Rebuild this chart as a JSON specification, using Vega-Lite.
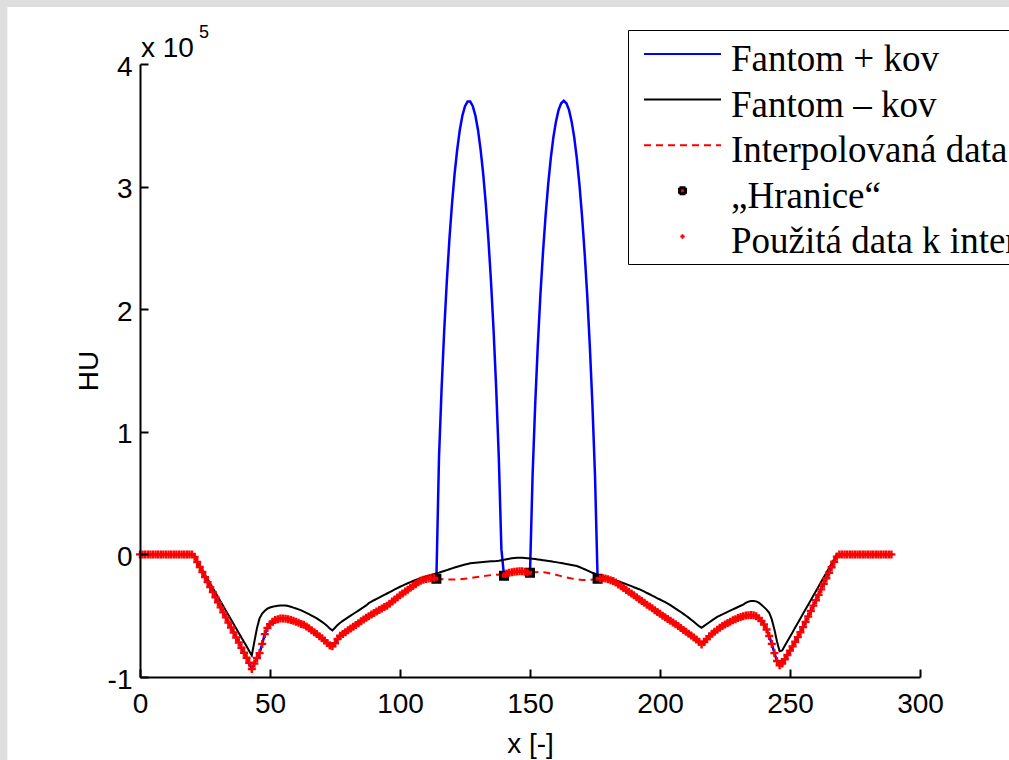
{
"$schema":"https://vega.github.io/schema/vega-lite/v6.json",
"width":780,"height":613,
"autosize":{"type":"none"},
"padding":{"left":140,"top":64,"right":89,"bottom":83},
"background":"#dedede",
"config":{"view":{"stroke":null},"font":"Liberation Sans","axis":{"zindex":1,"domainColor":"black","tickColor":"black","labelColor":"black","titleColor":"black","grid":false,"domainWidth":2,"tickWidth":2,"tickSize":-8,"labelFontSize":28,"titleFontSize":28,"titleFontWeight":"normal","labelFont":"Liberation Sans","titleFont":"Liberation Sans","labelFlush":false,"labelOverlap":false}},
"datasets":{
"plus":[{"x":0,"y":0},{"x":1,"y":0},{"x":2,"y":0},{"x":3,"y":0},{"x":4,"y":0},{"x":5,"y":0},{"x":6,"y":0},{"x":7,"y":0},{"x":8,"y":0},{"x":9,"y":0},{"x":10,"y":0},{"x":11,"y":0},{"x":12,"y":0},{"x":13,"y":0},{"x":14,"y":0},{"x":15,"y":0},{"x":16,"y":0},{"x":17,"y":0},{"x":18,"y":0},{"x":19,"y":0},{"x":20,"y":0},
{"x":21,"y":-2000},{"x":22,"y":-6200},{"x":23,"y":-10300},{"x":24,"y":-14400},{"x":25,"y":-18500},{"x":26,"y":-22600},{"x":27,"y":-26700},{"x":28,"y":-30800},{"x":29,"y":-34900},{"x":30,"y":-39000},{"x":31,"y":-43200},{"x":32,"y":-47300},{"x":33,"y":-51400},{"x":34,"y":-55500},{"x":35,"y":-59600},{"x":36,"y":-63700},{"x":37,"y":-67800},{"x":38,"y":-71900},{"x":39,"y":-76100},{"x":40,"y":-80200},{"x":41,"y":-84300},{"x":42,"y":-88400},{"x":43,"y":-93500},{"x":44,"y":-89000},{"x":45,"y":-84500},{"x":46,"y":-80500},{"x":47,"y":-73000},{"x":48,"y":-65000},{"x":49,"y":-60000},{"x":50,"y":-57000},
{"x":51,"y":-55000},{"x":52,"y":-53500},{"x":53,"y":-52800},{"x":54,"y":-52300},{"x":55,"y":-52200},{"x":56,"y":-52400},{"x":57,"y":-52900},{"x":58,"y":-53500},{"x":59,"y":-54200},{"x":60,"y":-55000},{"x":61,"y":-55800},{"x":62,"y":-56700},{"x":63,"y":-57400},{"x":64,"y":-58800},{"x":65,"y":-60300},{"x":66,"y":-61800},{"x":67,"y":-63400},{"x":68,"y":-65000},{"x":69,"y":-66700},{"x":70,"y":-68400},{"x":71,"y":-70300},{"x":72,"y":-72300},{"x":73,"y":-74400},{"x":74,"y":-75000},{"x":75,"y":-72500},
{"x":76,"y":-69000},{"x":77,"y":-66400},{"x":78,"y":-64900},{"x":79,"y":-63400},{"x":80,"y":-61900},{"x":81,"y":-60500},{"x":82,"y":-59000},{"x":83,"y":-57500},{"x":84,"y":-56100},{"x":85,"y":-54600},{"x":86,"y":-53100},{"x":87,"y":-51700},{"x":88,"y":-50400},{"x":89,"y":-49100},{"x":90,"y":-47800},{"x":91,"y":-46600},{"x":92,"y":-45400},{"x":93,"y":-44200},{"x":94,"y":-43000},{"x":95,"y":-41900},{"x":96,"y":-40200},{"x":97,"y":-38500},{"x":98,"y":-36800},{"x":99,"y":-35100},{"x":100,"y":-33400},
{"x":101,"y":-31900},{"x":102,"y":-30300},{"x":103,"y":-28800},{"x":104,"y":-27300},{"x":105,"y":-25800},{"x":106,"y":-24300},{"x":107,"y":-22800},{"x":108,"y":-21500},{"x":109,"y":-20600},{"x":110,"y":-20000},{"x":111,"y":-19600},{"x":112,"y":-19400},{"x":113,"y":-19300},{"x":114,"y":-19800},
{"x":115,"y":79000},{"x":116,"y":135200},{"x":117,"y":182400},{"x":118,"y":222600},{"x":119,"y":256900},{"x":120,"y":285800},{"x":121,"y":310300},{"x":122,"y":330200},{"x":123,"y":346200},{"x":124,"y":357900},{"x":125,"y":365600},{"x":126,"y":369500},{"x":127,"y":369500},{"x":128,"y":365600},{"x":129,"y":357900},{"x":130,"y":346200},{"x":131,"y":330200},{"x":132,"y":310300},{"x":133,"y":285800},{"x":134,"y":256900},{"x":135,"y":222600},{"x":136,"y":182400},{"x":137,"y":135200},{"x":138,"y":79000},{"x":139,"y":4300},
{"x":140,"y":-17400},{"x":141,"y":-15500},{"x":142,"y":-14900},{"x":143,"y":-14500},{"x":144,"y":-14200},{"x":145,"y":-13900},{"x":146,"y":-13700},{"x":147,"y":-13800},{"x":148,"y":-14200},{"x":149,"y":-14700},{"x":150,"y":-15000},
{"x":151,"y":64600},{"x":152,"y":122400},{"x":153,"y":170300},{"x":154,"y":211700},{"x":155,"y":246400},{"x":156,"y":276400},{"x":157,"y":302100},{"x":158,"y":323200},{"x":159,"y":340400},{"x":160,"y":353200},{"x":161,"y":362600},{"x":162,"y":368000},{"x":163,"y":370000},{"x":164,"y":368000},{"x":165,"y":362600},{"x":166,"y":353200},{"x":167,"y":340400},{"x":168,"y":323200},{"x":169,"y":302100},{"x":170,"y":276400},{"x":171,"y":246400},{"x":172,"y":211700},{"x":173,"y":170300},{"x":174,"y":122400},{"x":175,"y":64600},
{"x":176,"y":-19800},{"x":177,"y":-19600},{"x":178,"y":-19500},{"x":179,"y":-19700},{"x":180,"y":-20300},{"x":181,"y":-21000},{"x":182,"y":-21700},{"x":183,"y":-23000},{"x":184,"y":-24500},{"x":185,"y":-26000},{"x":186,"y":-27500},{"x":187,"y":-29000},{"x":188,"y":-30400},{"x":189,"y":-31900},{"x":190,"y":-33300},{"x":191,"y":-34900},{"x":192,"y":-36500},{"x":193,"y":-38000},{"x":194,"y":-39500},{"x":195,"y":-41000},{"x":196,"y":-42500},{"x":197,"y":-44000},{"x":198,"y":-45500},{"x":199,"y":-47000},{"x":200,"y":-48500},
{"x":201,"y":-50000},{"x":202,"y":-51300},{"x":203,"y":-52700},{"x":204,"y":-54100},{"x":205,"y":-55500},{"x":206,"y":-57000},{"x":207,"y":-58500},{"x":208,"y":-60000},{"x":209,"y":-61600},{"x":210,"y":-63100},{"x":211,"y":-64700},{"x":212,"y":-66200},{"x":213,"y":-67700},{"x":214,"y":-69400},{"x":215,"y":-71200},{"x":216,"y":-73400},{"x":217,"y":-71500},{"x":218,"y":-69000},{"x":219,"y":-66800},{"x":220,"y":-64800},{"x":221,"y":-63000},{"x":222,"y":-61400},{"x":223,"y":-59900},{"x":224,"y":-58500},{"x":225,"y":-57200},
{"x":226,"y":-56000},{"x":227,"y":-54900},{"x":228,"y":-53800},{"x":229,"y":-52800},{"x":230,"y":-51900},{"x":231,"y":-51100},{"x":232,"y":-50400},{"x":233,"y":-49900},{"x":234,"y":-49600},{"x":235,"y":-49500},{"x":236,"y":-49700},{"x":237,"y":-50500},{"x":238,"y":-52000},{"x":239,"y":-54200},{"x":240,"y":-57200},{"x":241,"y":-61200},{"x":242,"y":-66500},{"x":243,"y":-73000},{"x":244,"y":-80500},{"x":245,"y":-87000},{"x":246,"y":-90500},{"x":247,"y":-89000},{"x":248,"y":-85500},{"x":249,"y":-82000},{"x":250,"y":-78500},
{"x":251,"y":-75000},{"x":252,"y":-71300},{"x":253,"y":-67500},{"x":254,"y":-63500},{"x":255,"y":-59300},{"x":256,"y":-55000},{"x":257,"y":-50600},{"x":258,"y":-46200},{"x":259,"y":-41800},{"x":260,"y":-37400},{"x":261,"y":-33000},{"x":262,"y":-28500},{"x":263,"y":-24000},{"x":264,"y":-19500},{"x":265,"y":-15000},{"x":266,"y":-10500},{"x":267,"y":-6000},{"x":268,"y":-1800},
{"x":269,"y":0},{"x":270,"y":0},{"x":271,"y":0},{"x":272,"y":0},{"x":273,"y":0},{"x":274,"y":0},{"x":275,"y":0},{"x":276,"y":0},{"x":277,"y":0},{"x":278,"y":0},{"x":279,"y":0},{"x":280,"y":0},{"x":281,"y":0},{"x":282,"y":0},{"x":283,"y":0},{"x":284,"y":0},{"x":285,"y":0},{"x":286,"y":0},{"x":287,"y":0},{"x":288,"y":0},{"x":289,"y":0}],
"minus":[{"x":0,"y":0},{"x":20,"y":0},
{"x":21,"y":-1800},{"x":22,"y":-5500},{"x":23,"y":-9200},{"x":24,"y":-12800},{"x":25,"y":-16500},{"x":26,"y":-20100},{"x":27,"y":-23800},{"x":28,"y":-27500},{"x":29,"y":-31100},{"x":30,"y":-34800},{"x":31,"y":-38400},{"x":32,"y":-42100},{"x":33,"y":-45800},{"x":34,"y":-49400},{"x":35,"y":-53100},{"x":36,"y":-56700},{"x":37,"y":-60400},{"x":38,"y":-64100},{"x":39,"y":-67700},{"x":40,"y":-71400},{"x":41,"y":-75000},{"x":42,"y":-78700},{"x":43,"y":-82400},{"x":44,"y":-71000},{"x":45,"y":-60000},{"x":46,"y":-52000},{"x":47,"y":-48300},{"x":48,"y":-46000},{"x":49,"y":-44300},{"x":50,"y":-43300},
{"x":51,"y":-42700},{"x":52,"y":-42200},{"x":53,"y":-41900},{"x":54,"y":-41700},{"x":55,"y":-41600},{"x":56,"y":-41700},{"x":57,"y":-42100},{"x":58,"y":-42700},{"x":59,"y":-43400},{"x":60,"y":-44100},{"x":61,"y":-44800},{"x":62,"y":-45700},{"x":63,"y":-46700},{"x":64,"y":-47700},{"x":65,"y":-48800},{"x":66,"y":-49900},{"x":67,"y":-51000},{"x":68,"y":-52200},{"x":69,"y":-53600},{"x":70,"y":-55000},{"x":71,"y":-56600},{"x":72,"y":-58300},{"x":73,"y":-60500},{"x":74,"y":-62000},{"x":75,"y":-59800},
{"x":76,"y":-57500},{"x":77,"y":-55700},{"x":78,"y":-54200},{"x":79,"y":-52800},{"x":80,"y":-51400},{"x":81,"y":-50000},{"x":82,"y":-48600},{"x":83,"y":-47200},{"x":84,"y":-45800},{"x":85,"y":-44400},{"x":86,"y":-43000},{"x":87,"y":-41600},{"x":88,"y":-39800},{"x":89,"y":-38600},{"x":90,"y":-37400},{"x":91,"y":-36300},{"x":92,"y":-35200},{"x":93,"y":-34100},{"x":94,"y":-33000},{"x":95,"y":-31900},{"x":96,"y":-30800},{"x":97,"y":-29700},{"x":98,"y":-28600},{"x":99,"y":-27500},{"x":100,"y":-26400},
{"x":101,"y":-25400},{"x":102,"y":-24400},{"x":103,"y":-23500},{"x":104,"y":-22600},{"x":105,"y":-21700},{"x":106,"y":-20900},{"x":107,"y":-20100},{"x":108,"y":-19300},{"x":109,"y":-18600},{"x":110,"y":-17900},{"x":111,"y":-17300},{"x":112,"y":-16700},{"x":113,"y":-16100},{"x":114,"y":-15500},{"x":115,"y":-14900},{"x":116,"y":-14200},{"x":117,"y":-13500},{"x":118,"y":-12800},{"x":119,"y":-12100},{"x":120,"y":-11400},{"x":121,"y":-10700},{"x":122,"y":-10100},{"x":123,"y":-9500},{"x":124,"y":-8900},{"x":125,"y":-8300},
{"x":126,"y":-7800},{"x":127,"y":-7300},{"x":128,"y":-7000},{"x":129,"y":-6800},{"x":130,"y":-6600},{"x":131,"y":-6400},{"x":132,"y":-6200},{"x":133,"y":-6000},{"x":134,"y":-5800},{"x":135,"y":-5600},{"x":136,"y":-5500},{"x":137,"y":-5400},{"x":138,"y":-5200},{"x":139,"y":-4800},{"x":140,"y":-4400},{"x":141,"y":-4000},{"x":142,"y":-3600},{"x":143,"y":-3200},{"x":144,"y":-2900},{"x":145,"y":-2700},{"x":146,"y":-2700},{"x":147,"y":-2800},{"x":148,"y":-3000},{"x":149,"y":-3200},{"x":150,"y":-3400},
{"x":151,"y":-3500},{"x":152,"y":-3800},{"x":153,"y":-4100},{"x":154,"y":-4400},{"x":155,"y":-4700},{"x":156,"y":-5000},{"x":157,"y":-5300},{"x":158,"y":-5600},{"x":159,"y":-6000},{"x":160,"y":-6300},{"x":161,"y":-6700},{"x":162,"y":-7100},{"x":163,"y":-7500},{"x":164,"y":-7900},{"x":165,"y":-8300},{"x":166,"y":-8700},{"x":167,"y":-9100},{"x":168,"y":-9500},{"x":169,"y":-10300},{"x":170,"y":-11200},{"x":171,"y":-12100},{"x":172,"y":-13000},{"x":173,"y":-14000},{"x":174,"y":-15000},{"x":175,"y":-15800},
{"x":176,"y":-16600},{"x":177,"y":-17300},{"x":178,"y":-18000},{"x":179,"y":-18700},{"x":180,"y":-19300},{"x":181,"y":-19900},{"x":182,"y":-20400},{"x":183,"y":-21200},{"x":184,"y":-21900},{"x":185,"y":-22700},{"x":186,"y":-23500},{"x":187,"y":-24300},{"x":188,"y":-25100},{"x":189,"y":-25900},{"x":190,"y":-26800},{"x":191,"y":-27600},{"x":192,"y":-28400},{"x":193,"y":-29400},{"x":194,"y":-30400},{"x":195,"y":-31500},{"x":196,"y":-32500},{"x":197,"y":-33600},{"x":198,"y":-34700},{"x":199,"y":-35800},{"x":200,"y":-36800},
{"x":201,"y":-37900},{"x":202,"y":-39000},{"x":203,"y":-40100},{"x":204,"y":-41400},{"x":205,"y":-42800},{"x":206,"y":-44200},{"x":207,"y":-45600},{"x":208,"y":-47000},{"x":209,"y":-48500},{"x":210,"y":-50000},{"x":211,"y":-51600},{"x":212,"y":-53300},{"x":213,"y":-55000},{"x":214,"y":-56800},{"x":215,"y":-58500},{"x":216,"y":-59800},{"x":217,"y":-58300},{"x":218,"y":-56800},{"x":219,"y":-55300},{"x":220,"y":-53800},{"x":221,"y":-52400},{"x":222,"y":-51000},{"x":223,"y":-49900},{"x":224,"y":-48900},{"x":225,"y":-47900},
{"x":226,"y":-46900},{"x":227,"y":-45900},{"x":228,"y":-44900},{"x":229,"y":-43900},{"x":230,"y":-42900},{"x":231,"y":-41900},{"x":232,"y":-40900},{"x":233,"y":-39500},{"x":234,"y":-38500},{"x":235,"y":-38000},{"x":236,"y":-38000},{"x":237,"y":-38300},{"x":238,"y":-39400},{"x":239,"y":-41000},{"x":240,"y":-43000},{"x":241,"y":-45000},{"x":242,"y":-47600},{"x":243,"y":-53000},{"x":244,"y":-61200},{"x":245,"y":-71000},{"x":246,"y":-79000},{"x":247,"y":-78300},{"x":248,"y":-74600},{"x":249,"y":-70900},{"x":250,"y":-67100},
{"x":251,"y":-63400},{"x":252,"y":-59700},{"x":253,"y":-56000},{"x":254,"y":-52200},{"x":255,"y":-48500},{"x":256,"y":-44800},{"x":257,"y":-41000},{"x":258,"y":-37300},{"x":259,"y":-33600},{"x":260,"y":-29900},{"x":261,"y":-26100},{"x":262,"y":-22400},{"x":263,"y":-18700},{"x":264,"y":-14900},{"x":265,"y":-11200},{"x":266,"y":-7500},{"x":267,"y":-3700},{"x":268,"y":0},{"x":289,"y":0}],
"interp":[{"x":114,"y":-19800},{"x":117,"y":-20400},{"x":120,"y":-20500},{"x":123,"y":-20300},{"x":126,"y":-19600},{"x":129,"y":-18700},{"x":132,"y":-17800},{"x":135,"y":-16900},{"x":138,"y":-16300},{"x":140,"y":-16800},{"x":142,"y":-15200},{"x":144,"y":-14500},{"x":146,"y":-14000},{"x":148,"y":-14200},{"x":150,"y":-15000},{"x":152,"y":-14500},{"x":154,"y":-14300},{"x":156,"y":-14700},{"x":158,"y":-15600},{"x":160,"y":-16600},{"x":162,"y":-17700},{"x":164,"y":-18700},{"x":166,"y":-19600},{"x":168,"y":-20300},{"x":170,"y":-20800},{"x":172,"y":-20900},{"x":174,"y":-20500},{"x":176,"y":-19800}],
"bounds":[{"x":114,"y":-19800},{"x":140,"y":-17400},{"x":150,"y":-15000},{"x":176,"y":-19800}]
},
"encoding":{
"x":{"field":"x","type":"quantitative","scale":{"domain":[0,300],"nice":false,"zero":false},"axis":{"zindex":2,"values":[0,50,100,150,200,250,300],"title":"x [-]","labelPadding":21,"titlePadding":12}},
"y":{"field":"y","type":"quantitative","scale":{"domain":[-100000,400000],"nice":false,"zero":false},"axis":{"zindex":2,"values":[-100000,0,100000,200000,300000,400000],"labelExpr":"'' + (datum.value/100000)","title":"HU","labelPadding":16,"titlePadding":4,"labelBaseline":"middle","labelOffset":3}}
},
"layer":[
{"data":{"name":"bounds"},"transform":[{"filter":"datum.x == 114"}],"mark":{"type":"rect","fill":"white","zindex":0},"encoding":{"x":{"datum":-51},"x2":{"datum":400},"y":{"datum":446500},"y2":{"datum":-300000}}},
{"data":{"name":"plus"},"mark":{"type":"line","strokeWidth":2.5,"zindex":3},
 "encoding":{"color":{"datum":"Fantom + kov","type":"nominal","scale":{"domain":["Fantom + kov","Fantom – kov","Interpolovaná data","„Hranice“","Použitá data k interpolaci"],"range":["#0000ff","#000000","#ff0000","#000000","#ff0000"]},
  "legend":{"zindex":5,"orient":"none","legendX":488,"legendY":-34,"title":null,"strokeColor":"black","fillColor":"white","padding":3,"labelFont":"Liberation Serif","labelFontSize":37,"labelLimit":0,"labelColor":"black","symbolSize":5929,"symbolType":"stroke","symbolStrokeWidth":2,"symbolOffset":33,"labelOffset":30,"clipHeight":42,"rowPadding":0.6,
   "encode":{"labels":{"update":{"dy":{"value":6}}},"symbols":{"update":{
    "shape":{"signal":"datum.value === '„Hranice“' ? 'square' : datum.value === 'Použitá data k interpolaci' ? 'M-1,0H1M0,-1V1' : 'stroke'"},
    "size":{"signal":"datum.value === '„Hranice“' ? 36 : datum.value === 'Použitá data k interpolaci' ? 20 : 5929"},
    "stroke":{"signal":"datum.value === 'Fantom + kov' ? '#0000ff' : (datum.value === 'Fantom – kov' || datum.value === '„Hranice“') ? '#000000' : '#ff0000'"},
    "fill":{"signal":"datum.value === '„Hranice“' ? '#ff0000' : 'transparent'"},
    "strokeDash":{"signal":"datum.value === 'Interpolovaná data' ? [7,5] : [1,0]"},
    "strokeWidth":{"signal":"datum.value === '„Hranice“' ? 3 : 2"},
    "opacity":{"value":1}}}}}}}},
{"data":{"name":"minus"},"mark":{"type":"line","strokeWidth":2,"zindex":3},"encoding":{"color":{"datum":"Fantom – kov","type":"nominal"}}},
{"data":{"name":"interp"},"mark":{"type":"line","strokeWidth":2,"strokeDash":[7,5],"zindex":3},"encoding":{"color":{"datum":"Interpolovaná data","type":"nominal"}}},
{"data":{"name":"bounds"},"mark":{"type":"point","shape":"square","filled":true,"size":49,"fill":"#ff0000","stroke":"black","strokeWidth":3,"opacity":1,"zindex":3}},
{"data":{"name":"plus"},"transform":[{"filter":"datum.x <= 113 || (datum.x >= 141 && datum.x <= 149) || datum.x >= 177"}],"mark":{"type":"point","shape":"M-1,0H1M0,-1V1","filled":false,"size":64,"strokeWidth":2.4,"opacity":1,"zindex":3},"encoding":{"color":{"datum":"Použitá data k interpolaci","type":"nominal"}}},
{"data":{"name":"bounds"},"transform":[{"filter":"datum.x == 114"}],"mark":{"type":"text","align":"left","baseline":"alphabetic","fontSize":28,"font":"Liberation Sans","color":"black","dx":1,"dy":-7,"zindex":3},"encoding":{"x":{"datum":0},"y":{"datum":400000},"text":{"value":"x 10"}}},
{"data":{"name":"bounds"},"transform":[{"filter":"datum.x == 114"}],"mark":{"type":"text","align":"left","baseline":"alphabetic","fontSize":18,"font":"Liberation Sans","color":"black","dx":59,"dy":-26,"zindex":3},"encoding":{"x":{"datum":0},"y":{"datum":400000},"text":{"value":"5"}}}
]
}
